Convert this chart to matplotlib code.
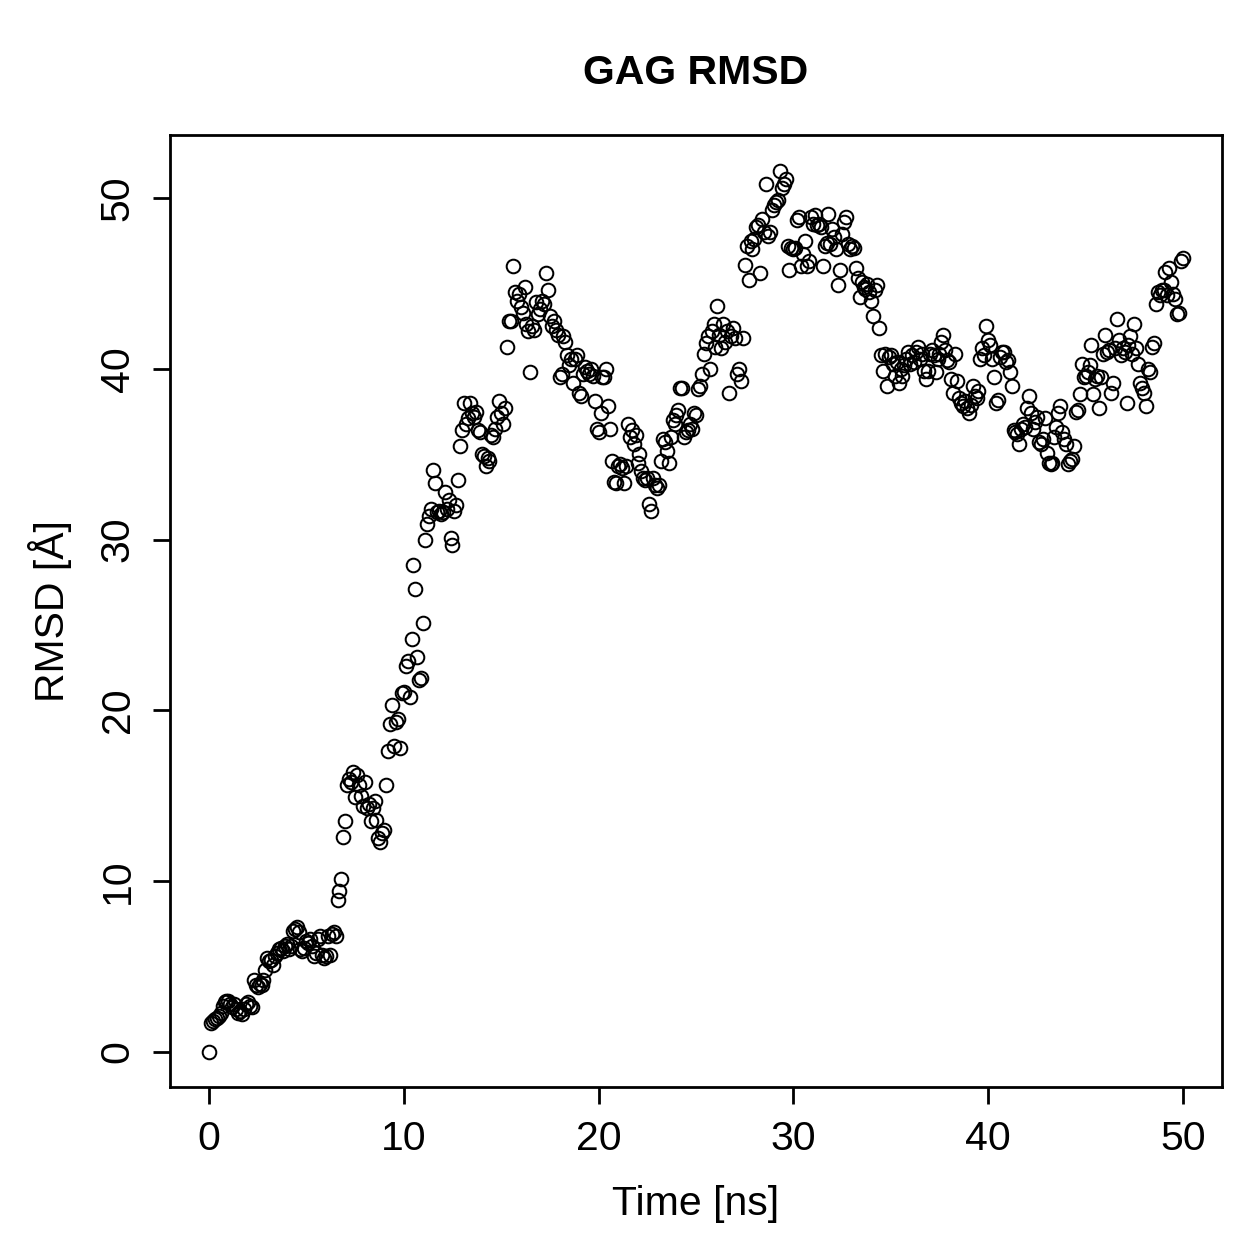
import numpy as np
import matplotlib.pyplot as plt

plt.rcParams['font.family'] = ['Liberation Sans', 'DejaVu Sans']

# RMSD values, one per 0.1 ns
rmsd_0_10 = [
    0.0, 1.7, 1.8, 1.9, 2.0, 2.1, 2.3, 2.7, 2.9, 3.0,
    3.0, 2.8, 2.6, 2.8, 2.5, 2.3, 2.4, 2.2, 2.5, 2.8,
    2.9, 2.7, 2.6, 4.2, 3.9, 3.8, 4.0, 3.9, 4.2, 4.8,
    5.5, 5.3, 5.4, 5.1, 5.6, 5.8, 6.0, 6.1, 5.9, 6.2,
    6.3, 6.0, 6.2, 7.1, 7.2, 7.3, 7.0, 6.0, 5.9, 6.1,
    6.5, 6.4, 6.6, 6.2, 5.6, 5.8, 6.6, 6.8, 5.7, 5.5,
    5.6, 6.8, 5.7, 6.9, 7.0, 6.8, 8.9, 9.4, 10.1, 12.6,
    13.5, 15.6, 16.0, 15.8, 16.4, 14.9, 16.2, 15.6, 15.0, 14.4,
    15.8, 14.3, 14.5, 13.5, 14.3, 14.7, 13.6, 12.5, 12.3, 12.8,
    13.0, 15.6, 17.6, 19.2, 20.3, 17.9, 19.3, 19.5, 17.8, 21.0,
]
rmsd_10_20 = [
    21.1, 22.6, 22.9, 20.8, 24.2, 28.5, 27.1, 23.1, 21.8, 21.9,
    25.1, 30.0, 30.9, 31.4, 31.8, 34.1, 33.3, 31.6, 31.7, 31.5,
    31.6, 32.8, 31.8, 32.3, 30.1, 29.7, 31.7, 32.0, 33.5, 35.5,
    36.4, 38.0, 36.8, 37.1, 38.0, 37.4, 37.2, 37.5, 36.4, 36.3,
    35.0, 34.9, 34.3, 34.8, 34.6, 36.1, 36.0, 36.5, 37.2, 38.1,
    37.4, 36.8, 37.7, 41.3, 42.8, 42.8, 46.0, 44.5, 44.0, 44.4,
    43.6, 43.3, 44.8, 42.6, 42.2, 39.8, 42.5, 42.3, 43.9, 43.2,
    43.5, 44.0, 43.8, 45.6, 44.6, 43.1, 42.5, 42.8, 42.3, 42.0,
    39.5, 39.7, 41.9, 41.6, 40.8, 40.2, 40.6, 39.2, 40.6, 40.8,
    38.6, 38.4, 39.7, 40.1, 39.9, 39.7, 40.0, 39.6, 38.1, 36.5,
]
rmsd_20_30 = [
    36.3, 37.4, 39.5, 39.5, 40.0, 37.8, 36.5, 34.6, 33.4, 33.3,
    34.3, 34.4, 34.2, 33.3, 34.3, 36.8, 36.0, 36.4, 35.6, 36.1,
    34.5, 35.0, 34.0, 33.6, 33.5, 33.6, 32.1, 31.7, 33.6, 33.2,
    33.0, 33.2, 34.6, 35.9, 35.7, 35.2, 34.5, 36.0, 37.0, 36.8,
    37.3, 37.6, 38.9, 38.9, 36.0, 36.3, 36.4, 36.8, 36.5, 37.4,
    37.3, 38.8, 39.0, 39.7, 40.9, 41.5, 41.9, 40.0, 42.2, 42.6,
    41.3, 43.7, 42.0, 41.2, 42.6, 41.6, 42.2, 38.6, 41.9, 42.4,
    41.8, 39.7, 40.0, 39.3, 41.8, 46.1, 47.2, 45.2, 47.5, 47.0,
    47.6, 48.3, 48.4, 45.6, 48.8, 48.0, 50.8, 47.8, 48.0, 49.3,
    49.6, 49.8, 49.9, 51.6, 50.6, 50.8, 51.1, 47.2, 45.8, 47.1,
]
rmsd_30_40 = [
    47.0, 47.1, 48.7, 48.9, 46.0, 46.7, 47.5, 46.0, 46.3, 48.9,
    48.5, 49.0, 48.4, 48.5, 48.3, 46.0, 47.2, 47.4, 49.1, 47.3,
    48.2, 47.7, 47.0, 44.9, 45.8, 47.9, 48.6, 48.9, 47.3, 47.0,
    47.2, 47.1, 45.9, 45.3, 44.2, 45.1, 44.8, 44.7, 45.0, 44.5,
    44.0, 43.1, 44.6, 44.9, 42.4, 40.8, 39.9, 40.9, 39.0, 40.7,
    40.8, 40.3, 39.6, 40.4, 39.2, 40.0, 39.6, 40.2, 40.6, 41.0,
    40.3, 40.8, 40.4, 41.0, 41.3, 40.6, 40.9, 39.9, 39.4, 39.9,
    40.9, 41.1, 40.8, 39.8, 40.6, 40.9, 41.6, 42.0, 41.1, 40.5,
    40.4, 39.4, 38.6, 40.9, 39.3, 38.3, 38.0, 37.8, 38.1, 37.7,
    37.4, 37.9, 39.0, 38.4, 38.3, 38.7, 40.6, 41.2, 40.8, 42.5,
]
rmsd_40_50 = [
    41.7, 41.4, 40.6, 39.5, 38.0, 38.2, 40.7, 41.0, 41.0, 40.4,
    40.5, 39.8, 39.0, 36.4, 36.3, 36.2, 35.6, 36.5, 36.8, 36.6,
    37.7, 38.4, 37.4, 36.5, 36.9, 37.2, 35.7, 35.6, 35.9, 37.1,
    35.1, 34.5, 34.4, 34.5, 36.0, 36.6, 37.4, 37.8, 36.3, 35.9,
    35.6, 34.4, 34.6, 34.7, 35.5, 37.5, 37.6, 38.5, 40.3, 39.5,
    39.6, 39.8, 40.2, 41.4, 38.5, 39.4, 39.6, 37.7, 39.5, 40.9,
    42.0, 41.0, 41.1, 38.6, 39.2, 41.2, 42.9, 41.7, 40.8, 41.2,
    41.0, 38.0, 41.4, 41.9, 40.9, 42.6, 41.2, 40.3, 39.2, 38.9,
    38.6, 37.8, 40.0, 39.8, 41.3, 41.5, 43.8, 44.5, 44.3, 44.6,
    44.6, 45.7, 44.3, 45.9, 45.1, 44.4, 44.1, 43.2, 43.3, 46.3,
    46.5,
]

rmsd = np.array(rmsd_0_10 + rmsd_10_20 + rmsd_20_30 + rmsd_30_40 + rmsd_40_50)
time_ns = np.arange(len(rmsd)) * 0.1

fig = plt.figure(figsize=(12.59, 12.59), dpi=100)
ax = fig.add_axes([0.135, 0.1366, 0.8356, 0.7562])

ax.plot(time_ns, rmsd, linestyle='none', marker='o', markersize=9.8,
        markerfacecolor='none', markeredgecolor='black', markeredgewidth=1.45)

ax.set_xlim(-2, 52)
ax.set_ylim(-2.06, 53.7)
ax.set_xticks([0, 10, 20, 30, 40, 50])
ax.set_yticks([0, 10, 20, 30, 40, 50])

for s in ax.spines.values():
    s.set_linewidth(2.0)

ax.tick_params(direction='out', length=12, width=2.0, labelsize=29.5, pad=12)
for lab in ax.get_yticklabels():
    lab.set_rotation(90)
    lab.set_va('center')

ax.set_title('GAG RMSD', fontsize=29.5, fontweight='bold', pad=37)
ax.set_xlabel('Time [ns]', fontsize=29.5, labelpad=19)
ax.set_ylabel('RMSD [Å]', fontsize=29.5, labelpad=19)

fig.savefig('out.png', dpi=100)
